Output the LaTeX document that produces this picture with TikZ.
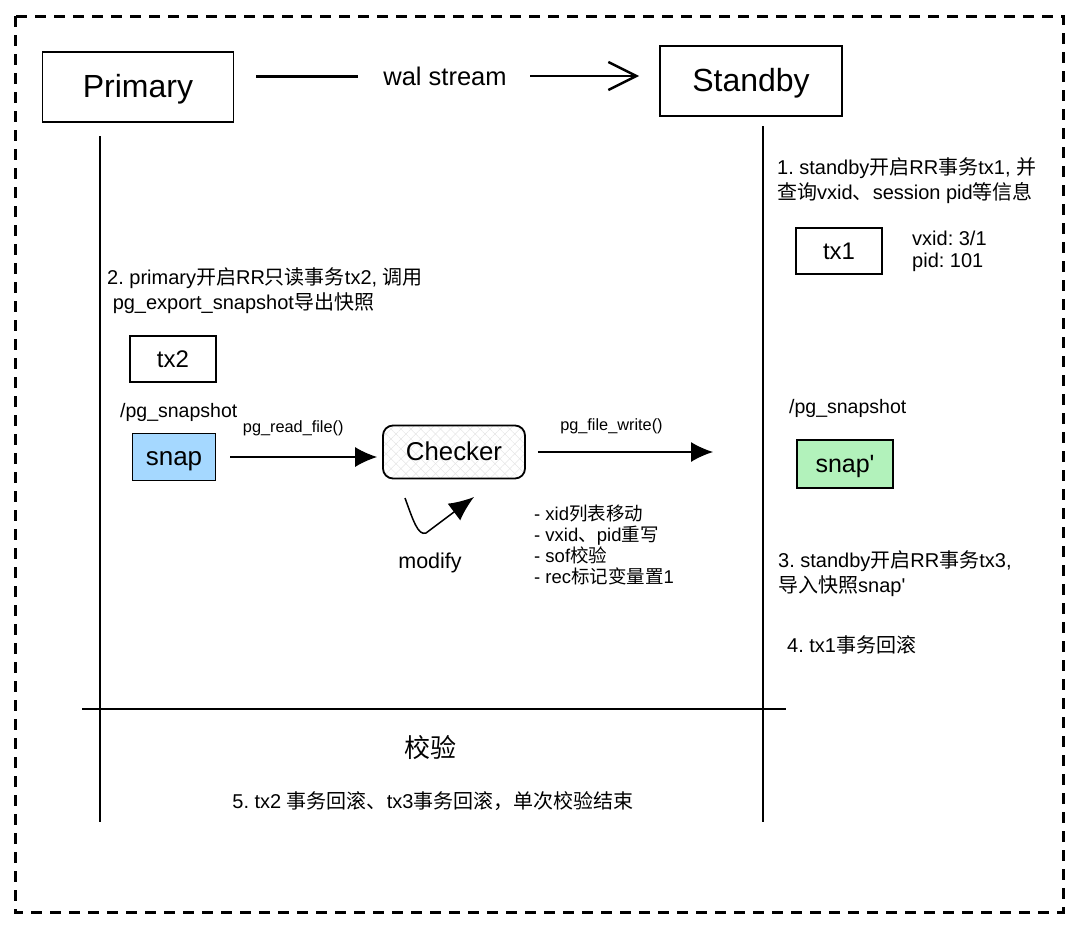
\documentclass[tikz,border=0pt]{standalone}
\usepackage{fontspec}
\setmainfont{Liberation Sans}
\newfontfamily\cjk{Noto Sans CJK SC}
\newcommand\zh[1]{{\cjk #1}}
\newcommand\fs[2]{\fontsize{#1bp}{#2bp}\selectfont}
\frenchspacing
\usetikzlibrary{arrows.meta,patterns.meta}
\definecolor{snapblue}{HTML}{A5D8FF}
\definecolor{snapgreen}{HTML}{B2F2BB}
\tikzset{
  box/.style={draw, line width=1.8bp, inner sep=0pt, font=\fs{#1}{#1},
    text height=0.78*#1bp, text depth=0.1*#1bp},
  note/.style={font=\fs{20}{25}, align=left, inner sep=0pt},
  lbl/.style={font=\fs{16.3}{19}, inner sep=0pt},
  flow/.style={line width=1.3bp, -{Latex[length=22bp,width=20bp]}},
  life/.style={line width=1.3bp},
  hatch/.style={path picture={
    \path[pattern={Lines[angle=45,distance=7bp,line width=0.5bp]}, pattern color=gray!20]
      (path picture bounding box.south west) rectangle (path picture bounding box.north east);
    \path[pattern={Lines[angle=-45,distance=7bp,line width=0.5bp]}, pattern color=gray!20]
      (path picture bounding box.south west) rectangle (path picture bounding box.north east);}}
}
\begin{document}
\begin{tikzpicture}[x=1bp,y=-1bp]
  \useasboundingbox (0,0) rectangle (1080,929);
  % outer frame
  \draw[line width=3bp, dash pattern=on 11bp off 8bp] (15,16) rectangle (1063,912);

  % primary / standby
  \node[box=32, minimum width=191bp, minimum height=70bp] (prim) at (138,87) {Primary};
  \node[box=32, minimum width=182bp, minimum height=70bp] (stby) at (751,81) {Standby};
  \node[font=\fs{25.5}{28}] (wal) at (445,76) {wal stream};
  \draw[line width=3bp, shorten <=22bp, shorten >=22bp] (prim.east |- wal) -- (wal.west);
  \draw[line width=2.5bp, -{Straight Barb[length=28bp,width=28bp]}, shorten <=20bp, shorten >=20bp]
    (wal.east) -- (stby.west |- wal.east);

  % lifelines
  \coordinate (pTop) at (100,136);
  \coordinate (pBot) at (100,822);
  \coordinate (sTop) at (763,126);
  \coordinate (sBot) at (763,822);
  \coordinate (hl) at (82,709);
  \coordinate (hr) at (786,709);
  \draw[life] (pTop) -- (pBot);
  \draw[life] (sTop) -- (sBot);
  \draw[life] (hl) -- (hr);

  % standby side
  \node[note, anchor=west] (s1) at (777,181) {1. standby\zh{开启}RR\zh{事务}tx1, \zh{并}\\ \zh{查询}vxid\zh{、}session pid\zh{等信息}};
  \node[box=24, minimum width=86bp, minimum height=46bp] (tx1) at (839,251) {tx1};
  \node[note, font=\fs{20}{22}, anchor=west] (vx) at (912,251) {vxid: 3/1\\pid: 101};
  \node[note, font=\fs{19.5}{22}, anchor=west] (ps2) at (789,408) {/pg\_snapshot};
  \node[box=25, fill=snapgreen, minimum width=96bp, minimum height=48bp] (snapp) at (845,464) {snap\textquotesingle};
  \node[note, anchor=west] (s3) at (778,574) {3. standby\zh{开启}RR\zh{事务}tx3,\\\zh{导入快照}snap\textquotesingle};
  \node[note, anchor=west] (s4) at (787,645) {4. tx1\zh{事务回滚}};

  % primary side
  \node[note, anchor=west] (s2) at (107,291) {2. primary\zh{开启}RR\zh{只读事务}tx2, \zh{调用}\\ \ pg\_export\_snapshot\zh{导出快照}};
  \node[box=24, minimum width=86bp, minimum height=46bp] (tx2) at (173,359) {tx2};
  \node[note, font=\fs{19.5}{22}, anchor=west] (ps1) at (120,412) {/pg\_snapshot};
  \node[box=26, fill=snapblue, minimum width=83bp, minimum height=47bp] (snap) at (174,457) {snap};

  % checker
  \node[box=25.8, hatch, rounded corners=10bp, minimum width=142bp, minimum height=53bp] (chk) at (454,452) {Checker};
  \coordinate (wEnd) at (713,452);
  \draw[flow, shorten <=14bp, shorten >=5bp] (snap.east) -- (chk.west |- snap.east)
    node[lbl, midway, above=20bp, xshift=-6bp] (rd) {pg\_read\_file()};
  \draw[flow, shorten <=12bp] (chk.east) -- (wEnd)
    node[lbl, midway, above=17bp, xshift=-8bp] (wr) {pg\_file\_write()};

  % modify loop
  \coordinate (mA) at (405,498);
  \coordinate (mB) at (474,497);
  \draw[line width=1.5bp, -{Latex[length=25bp,width=21bp]}] (mA) .. controls (413,520) and (418,536) .. (426,533) -- (mB);
  \node[font=\fs{21.5}{24}] (mod) at (430,563) {modify};
  \node[note, font=\fs{18.5}{21}, anchor=west] (ops) at (534,545)
    {- xid\zh{列表移动}\\- vxid\zh{、}pid\zh{重写}\\- sof\zh{校验}\\- rec\zh{标记变量置}1};

  % bottom
  \node[font=\fs{26}{28}] (chkt) at (430,748) {\zh{校验}};
  \node[font=\fs{20}{22}] (fin) at (433,801) {5. tx2 \zh{事务回滚、}tx3\zh{事务回滚，单次校验结束}};
\end{tikzpicture}
\end{document}
